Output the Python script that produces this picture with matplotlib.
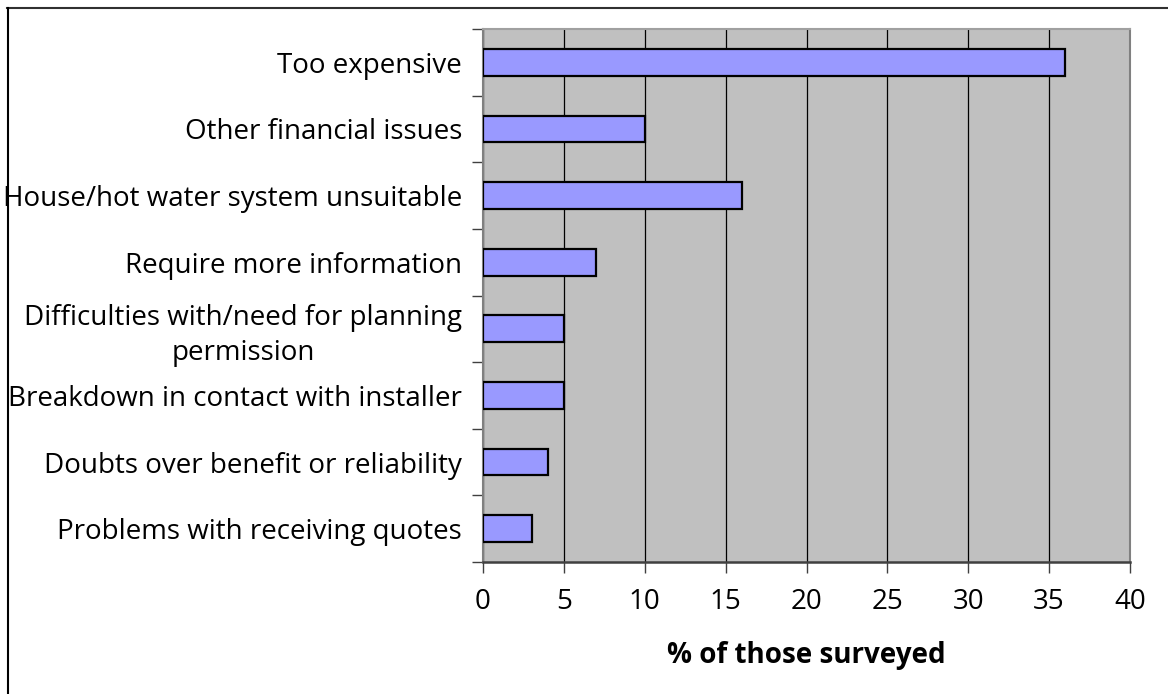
import matplotlib
matplotlib.use("Agg")
import matplotlib.pyplot as plt
from matplotlib.lines import Line2D
import numpy as np

plt.rcParams['font.family'] = ['Open Sans', 'DejaVu Sans']

# survey reasons, top to bottom
reasons = [
    "Too expensive",
    "Other financial issues",
    "House/hot water system unsuitable",
    "Require more information",
    "Difficulties with/need for planning\npermission",
    "Breakdown in contact with installer",
    "Doubts over benefit or reliability",
    "Problems with receiving quotes",
]
percent = [36, 10, 16, 7, 5, 5, 4, 3]
xticks = [0, 5, 10, 15, 20, 25, 30, 35, 40]

fig = plt.figure(figsize=(11.68, 6.94), dpi=100)
ax = fig.add_axes([483 / 1168, 1 - 562 / 694, 647 / 1168, 533 / 694])
ax.set_facecolor("#C0C0C0")

n = len(reasons)
ypos = np.arange(n)[::-1] + 0.5
ax.barh(ypos, percent, height=0.4, color="#9999FF", edgecolor="black", linewidth=1.6, zorder=3)

ax.set_xlim(0, 40)
ax.set_ylim(0, n)
ax.set_xticks(xticks)
ax.set_xticklabels([str(t) for t in xticks], fontsize=20)
ax.xaxis.grid(True, color="black", linewidth=0.9, zorder=1)
ax.set_axisbelow(True)

# category labels in the middle, tick marks on the boundaries
ax.set_yticks(np.arange(n + 1))
ax.set_yticklabels([])
ax.set_yticks(ypos, minor=True)
ax.set_yticklabels(reasons, minor=True, fontsize=20, multialignment="center", linespacing=1.3)
ax.tick_params(axis="y", which="minor", length=0, pad=15)
ax.tick_params(axis="y", which="major", length=8, width=1, color="#404040", direction="out")
ax.tick_params(axis="x", length=8, width=1, color="#404040", direction="out", pad=11)

ax.set_xlabel("% of those surveyed", fontsize=20, fontweight="bold", labelpad=18)

for s in ["right", "left"]:
    ax.spines[s].set_color("#808080")
    ax.spines[s].set_linewidth(1.5)
ax.spines["top"].set_color("#A0A0A0")
ax.spines["top"].set_linewidth(1.5)
ax.spines["bottom"].set_color("#404040")
ax.spines["bottom"].set_linewidth(1.8)

# outer chart frame
fig.add_artist(Line2D([7 / 1168, 1], [1 - 7.5 / 694, 1 - 7.5 / 694], color="#303030", linewidth=1.5))
fig.add_artist(Line2D([7.5 / 1168, 7.5 / 1168], [0, 1 - 7.5 / 694], color="black", linewidth=1.5))

fig.savefig("out.png", dpi=100)
